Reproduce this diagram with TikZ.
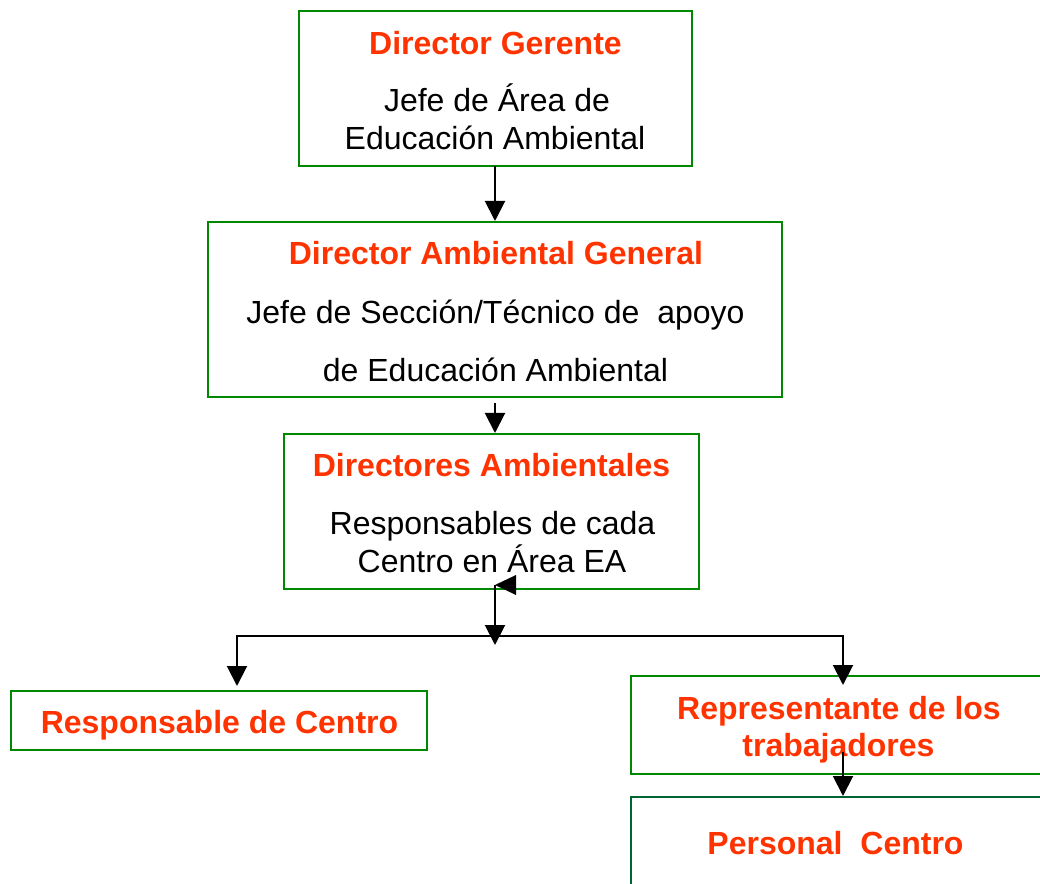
\documentclass[tikz,border=0pt]{standalone}
\usepackage{fontspec}
\setmainfont{Liberation Sans}
\usetikzlibrary{arrows.meta,fit,calc}
\definecolor{boxgreen}{RGB}{0,136,0}
\definecolor{boxgreendk}{RGB}{0,100,50}
\definecolor{titlered}{RGB}{255,51,0}
\tikzset{
  box/.style={draw=boxgreen, line width=1.5pt, inner sep=0pt, rectangle},
  ttl/.style={text=titlered, font=\fontsize{24}{28}\selectfont\bfseries, anchor=base, inner sep=0pt},
  txt/.style={text=black, font=\fontsize{24}{28}\selectfont, anchor=base, inner sep=0pt},
  conn/.style={draw=black, line width=1.5pt, -{Triangle[length=15pt,width=15pt]}},
}
\begin{document}
\begin{tikzpicture}[x=0.75pt,y=-0.75pt]
\useasboundingbox (0,0) rectangle (1040,884);
% boxes
\node[box, fit={(299,11) (692,166)}] (b1) {};
\node[box, fit={(208,222) (782,397)}] (b2) {};
\node[box, fit={(284,434) (699,589)}] (b3) {};
\node[box, fit={(11,691) (427,750)}] (b4) {};
\node[box, fit={(631,676) (1050,774)}] (b5) {};
\node[box, draw=boxgreendk, fit={(631,797) (1050,900)}] (b6) {};
% texts
\node[ttl] (t1) at (495.5,54.5) {Director Gerente};
\node[txt] (t1a) at (497,112) {Jefe de Área de};
\node[txt] (t1b) at (495,149.5) {Educación Ambiental};
\node[ttl] (t2) at (496,264.5) {Director Ambiental General};
\node[txt] (t2a) at (495.5,323.5) {Jefe de Sección/Técnico de~ apoyo};
\node[txt] (t2b) at (495.5,382) {de Educación Ambiental};
\node[ttl] (t3) at (491.5,477) {Directores Ambientales};
\node[txt] (t3a) at (492.5,534) {Responsables de cada};
\node[txt] (t3b) at (492,572) {Centro en Área EA};
\node[ttl] (t4) at (219.5,733.5) {Responsable de Centro};
\node[ttl] (t5a) at (839,719.5) {Representante de los};
\node[ttl] (t5b) at (838.5,756.5) {trabajadores};
\node[ttl] (t6) at (835.5,854) {Personal~ Centro};
% connectors
\coordinate (c1) at (495,166);
\draw[conn] (c1) -- (c1 |- b2.north);
\coordinate (c2) at (495,403);
\draw[conn] (c2) -- (c2 |- b3.north);
\coordinate (c3) at (495,585);
\coordinate (c3t) at (495,645);
\draw[conn] (c3) -- (c3t);
\coordinate (h1) at (516,575);
\coordinate (h2) at (516,595);
\fill[black] (c3) -- (h1) -- (h2) -- cycle;
\coordinate (jm) at (495,636);
\coordinate (tl) at (237,686);
\coordinate (tr) at (843,685);
\draw[conn] (jm) -| (tl);
\draw[conn] (jm) -| (tr);
\coordinate (r5) at (843,752);
\draw[conn] (r5) -- (r5 |- b6.north);
\end{tikzpicture}
\end{document}
